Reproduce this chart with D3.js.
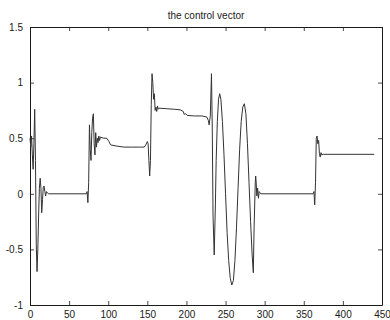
<!DOCTYPE html>
<html>
<head>
<meta charset="utf-8">
<script src="https://cdn.jsdelivr.net/npm/d3@7"></script>
<style>
  body { margin: 0; background: #fff; }
  svg { display: block; font-family: "Liberation Sans", Arial, sans-serif; }
</style>
</head>
<body>
<svg id="chart" width="390" height="320"></svg>
<script>
// sample index (time step) and control value
const steps = [
  0, 1, 2, 3, 4, 5, 6, 7, 8, 9, 10, 11, 12, 13, 14, 15, 16, 17, 18, 19, 20, 21, 22, 24,
  72, 73, 74, 75, 76, 77, 78, 79, 80, 81, 82, 83, 84, 85, 86, 87, 88, 89, 90, 94, 98,
  101, 103, 110, 120, 130, 140, 146, 148, 150, 151, 152, 153, 154, 155, 156, 157, 158,
  159, 160, 161, 162, 163, 164, 165, 175, 185, 192, 196, 197, 199, 201, 210, 220, 226,
  228, 229, 230.5, 232, 233, 234, 235.5, 237, 238, 239.5, 241, 242.5, 244, 246, 248,
  250, 252, 254, 256, 258, 260, 262, 264, 266, 268, 270, 272, 274, 276, 278, 280, 282,
  284, 285.5, 286.5, 288, 288.5, 289, 290, 291, 292, 293, 294, 295, 362, 363, 364, 365,
  366, 367, 368, 369, 370, 371, 372, 373, 375, 440
];
const control = [
  0.5, 0.42, 0.52, 0.35, 0.22, 0.45, 0.76, 0.3, -0.45, -0.7, -0.5, -0.2, 0.05, 0.14, 0.05, -0.17, -0.05, 0.06, 0.07, 0.02, -0.02, 0.02, 0.01, 0,
  0, 0.02, -0.08, 0.1, 0.62, 0.4, 0.3, 0.55, 0.68, 0.72, 0.45, 0.35, 0.55, 0.42, 0.5, 0.46, 0.52, 0.48, 0.51, 0.5, 0.5,
  0.47, 0.44, 0.43, 0.42, 0.42, 0.42, 0.42, 0.44, 0.47, 0.45, 0.3, 0.16, 0.3, 0.8, 1.08, 1.0, 0.85,
  0.9, 0.75, 0.78, 0.74, 0.79, 0.76, 0.77, 0.765, 0.76, 0.755, 0.74, 0.715, 0.72, 0.705, 0.7, 0.7, 0.69,
  0.66, 0.62, 0.7, 1.08, 0.6, -0.2, -0.55, -0.1, 0.3, 0.65, 0.85, 0.9, 0.85, 0.65, 0.35,
  0.0, -0.35, -0.6, -0.76, -0.82, -0.78, -0.6, -0.3, 0.05, 0.4, 0.65, 0.78, 0.81, 0.72, 0.45, 0.1, -0.25,
  -0.55, -0.71, -0.3, 0.1, 0.16, 0.12, -0.02, 0.05, -0.04, 0.02, 0.01, 0, 0, 0.02, -0.1, 0.1,
  0.5, 0.52, 0.45, 0.48, 0.36, 0.33, 0.37, 0.35, 0.355, 0.355
];
const xTicks = [0, 50, 100, 150, 200, 250, 300, 350, 400, 450];
const yTicks = [-1, -0.5, 0, 0.5, 1, 1.5];
const title = "the control vector";

const svg = d3.select("#chart");
const plotLeft = 30, plotRight = 382, plotTop = 27, plotBottom = 305;
const ink = "#1a1a1a";

const x = d3.scaleLinear().domain([0, 450]).range([plotLeft, plotRight]);
const y = d3.scaleLinear().domain([-1, 1.5]).range([plotBottom, plotTop]);

// axes: labels on bottom/left, inward ticks on all four sides (matlab look)
const tickLen = 4;
const bottomAxis = d3.axisBottom(x).tickValues(xTicks).tickSizeInner(-tickLen).tickSizeOuter(0)
  .tickPadding(6).tickFormat(d3.format("d"));
const topAxis = d3.axisTop(x).tickValues(xTicks).tickSizeInner(-tickLen).tickSizeOuter(0).tickFormat("");
const leftAxis = d3.axisLeft(y).tickValues(yTicks).tickSizeInner(-tickLen).tickSizeOuter(0)
  .tickPadding(7).tickFormat(d => String(d));
const rightAxis = d3.axisRight(y).tickValues(yTicks).tickSizeInner(-tickLen).tickSizeOuter(0).tickFormat("");

function styleAxis(g) {
  g.select(".domain").attr("stroke", ink).attr("stroke-width", 1);
  g.selectAll(".tick line").attr("stroke", ink).attr("stroke-width", 0.8);
  g.selectAll(".tick text").attr("fill", ink).attr("font-size", 10);
}

svg.append("g").attr("transform", `translate(0,${plotBottom})`).call(bottomAxis).call(styleAxis);
svg.append("g").attr("transform", `translate(0,${plotTop})`).call(topAxis).call(styleAxis);
svg.append("g").attr("transform", `translate(${plotLeft},0)`).call(leftAxis).call(styleAxis);
svg.append("g").attr("transform", `translate(${plotRight},0)`).call(rightAxis).call(styleAxis);

// the signal
const pts = steps.map((t, i) => [t, control[i]]);
const line = d3.line().x(d => x(d[0])).y(d => y(d[1]));
svg.append("path")
  .datum(pts)
  .attr("fill", "none")
  .attr("stroke", "#333")
  .attr("stroke-width", 1)
  .attr("stroke-linejoin", "round")
  .attr("d", line);

// title
svg.append("text")
  .attr("x", (plotLeft + plotRight) / 2)
  .attr("y", 19)
  .attr("text-anchor", "middle")
  .attr("font-size", 10)
  .attr("fill", ink)
  .text(title);
</script>
</body>
</html>
